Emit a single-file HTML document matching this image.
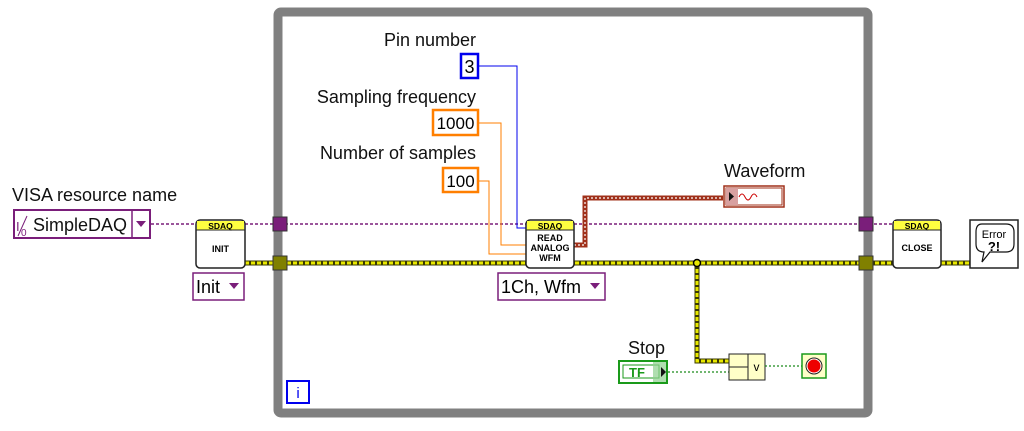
<!DOCTYPE html>
<html><head><style>
body{margin:0;background:#fff;}
svg text{font-family:"Liberation Sans","DejaVu Sans",sans-serif;}
</style></head><body>
<svg width="1024" height="426" viewBox="0 0 1024 426" xmlns="http://www.w3.org/2000/svg">
<rect width="1024" height="426" fill="#fff"/>
<rect x="278" y="12" width="590" height="401" fill="none" stroke="#808080" stroke-width="9" rx="3"/>
<g stroke="#7a1e7a" stroke-width="1.5" fill="none" stroke-dasharray="3,2">
<line x1="151" y1="224" x2="197" y2="224"/>
<line x1="245" y1="224" x2="526" y2="224"/>
<line x1="574" y1="224" x2="893" y2="224"/>
</g>
<g>
<line x1="245" y1="263" x2="972" y2="263" stroke="#3a3a00" stroke-width="5"/>
<line x1="245" y1="263" x2="972" y2="263" stroke="#e8e800" stroke-width="3" stroke-dasharray="4,2"/>
<polyline points="697,263 697,361 729,361" fill="none" stroke="#3a3a00" stroke-width="5"/>
<polyline points="697,263 697,361 729,361" fill="none" stroke="#e8e800" stroke-width="3" stroke-dasharray="4,2"/>
<circle cx="697" cy="263" r="3.5" fill="#e8e800" stroke="#000" stroke-width="1.5"/>
</g>
<rect x="273" y="217" width="14" height="14" fill="#7a1e7a" stroke="#333" stroke-width="1"/>
<rect x="273" y="256" width="14" height="14" fill="#808000" stroke="#333" stroke-width="1"/>
<rect x="859" y="217" width="14" height="14" fill="#7a1e7a" stroke="#333" stroke-width="1"/>
<rect x="859" y="256" width="14" height="14" fill="#808000" stroke="#333" stroke-width="1"/>
<text x="12" y="201" font-size="18" fill="#111">VISA resource name</text>
<rect x="14" y="210" width="136" height="28" fill="#fff" stroke="#7a1e7a" stroke-width="2"/>
<line x1="132" y1="210" x2="132" y2="238" stroke="#7a1e7a" stroke-width="1.5"/>
<text x="16" y="231" font-size="13" fill="#7a1e7a">I</text>
<line x1="18" y1="236" x2="27" y2="216" stroke="#7a1e7a" stroke-width="1"/>
<text x="21" y="236" font-size="10" fill="#7a1e7a">0</text>
<text x="33" y="231" font-size="18" fill="#111">SimpleDAQ</text>
<polygon points="136,221 146,221 141,227" fill="#7a1e7a"/>
<rect x="196" y="220" width="49" height="48" rx="4" fill="#fff" stroke="#222" stroke-width="1.5"/>
<rect x="197" y="221" width="47" height="9" fill="#ffff40"/>
<line x1="196" y1="230" x2="245" y2="230" stroke="#222"/>
<text x="220.5" y="229" font-size="8.5" font-weight="bold" text-anchor="middle">SDAQ</text>
<text x="220.5" y="252" font-size="9" font-weight="bold" text-anchor="middle">INIT</text>
<rect x="193" y="273" width="51" height="27" fill="#fff" stroke="#7a1e7a" stroke-width="1.5"/>
<text x="196" y="293" font-size="18">Init</text>
<polygon points="229,283 239,283 234,289" fill="#7a1e7a"/>
<text x="476" y="46" font-size="18" text-anchor="end" fill="#111">Pin number</text>
<rect x="461" y="54" width="17" height="24" fill="#fff" stroke="#0000ee" stroke-width="2.5"/>
<text x="469.5" y="73" font-size="18" text-anchor="middle">3</text>
<text x="476" y="103" font-size="18" text-anchor="end" fill="#111">Sampling frequency</text>
<rect x="433" y="110" width="45" height="25" fill="#fff" stroke="#ff7f00" stroke-width="2.5"/>
<text x="455.5" y="129" font-size="17" text-anchor="middle">1000</text>
<text x="476" y="159" font-size="18" text-anchor="end" fill="#111">Number of samples</text>
<rect x="443" y="168" width="35" height="24" fill="#fff" stroke="#ff7f00" stroke-width="2.5"/>
<text x="460.5" y="187" font-size="17" text-anchor="middle">100</text>
<polyline points="478,66 517,66 517,228 526,228" fill="none" stroke="#0000ee" stroke-width="1"/>
<polyline points="478,123 501,123 501,245 526,245" fill="none" stroke="#ff7f00" stroke-width="1"/>
<polyline points="478,181 489,181 489,254 526,254" fill="none" stroke="#ff7f00" stroke-width="1"/>
<polyline points="574,245 585,245 585,198 723,198" fill="none" stroke="#a0301a" stroke-width="5"/>
<polyline points="574,245 585,245 585,198 723,198" fill="none" stroke="#fff" stroke-width="1.2" stroke-dasharray="2,2"/>
<text x="724" y="177" font-size="18" fill="#111">Waveform</text>
<rect x="724" y="186" width="60" height="21" fill="#fff" stroke="#a0301a" stroke-width="1.5"/>
<rect x="726" y="188" width="56" height="17" fill="none" stroke="#a0301a" stroke-width="1"/>
<rect x="726" y="188" width="12" height="17" fill="#d8a0a0"/>
<polygon points="729,192 734,196.5 729,201" fill="#111"/>
<path d="M739,197 q3,-6 6,0 q3,6 6,0 q3,-6 6,0" fill="none" stroke="#c00" stroke-width="1"/>
<rect x="526" y="220" width="48" height="48" rx="4" fill="#fff" stroke="#222" stroke-width="1.5"/>
<rect x="527" y="221" width="46" height="9" fill="#ffff40"/>
<line x1="526" y1="230" x2="574" y2="230" stroke="#222"/>
<text x="550" y="229" font-size="8.5" font-weight="bold" text-anchor="middle">SDAQ</text>
<text x="550" y="241" font-size="9" font-weight="bold" text-anchor="middle">READ</text>
<text x="550" y="251" font-size="9" font-weight="bold" text-anchor="middle">ANALOG</text>
<text x="550" y="261" font-size="9" font-weight="bold" text-anchor="middle">WFM</text>
<rect x="498" y="273" width="107" height="27" fill="#fff" stroke="#7a1e7a" stroke-width="1.5"/>
<text x="501" y="293" font-size="18">1Ch, Wfm</text>
<polygon points="590,283 600,283 595,289" fill="#7a1e7a"/>
<text x="628" y="354" font-size="18" fill="#111">Stop</text>
<rect x="619" y="361" width="48" height="22" fill="#fff" stroke="#1a9a1a" stroke-width="2"/>
<rect x="623" y="365" width="36" height="13" fill="none" stroke="#1a9a1a" stroke-width="1"/>
<rect x="653" y="362" width="13" height="20" fill="#8fd08f" opacity="0.7"/>
<text x="637" y="377" font-size="13" font-weight="bold" fill="#1a9a1a" text-anchor="middle">TF</text>
<polygon points="661,367 666,372 661,377" fill="#111"/>
<line x1="668" y1="372" x2="729" y2="372" stroke="#1a8a1a" stroke-width="1.2" stroke-dasharray="2,2"/>
<rect x="729" y="354" width="36" height="26" fill="#ffffc8" stroke="#222" stroke-width="1"/>
<line x1="748" y1="354" x2="748" y2="380" stroke="#222"/>
<line x1="729" y1="367" x2="748" y2="367" stroke="#222"/>
<text x="756.5" y="371" font-size="12" text-anchor="middle">v</text>
<line x1="765" y1="366" x2="802" y2="366" stroke="#1a8a1a" stroke-width="1.2" stroke-dasharray="2,2"/>
<rect x="802" y="354" width="24" height="24" fill="#ffffc8" stroke="#1a9a1a" stroke-width="1.5"/>
<circle cx="814" cy="366" r="8" fill="#fff" stroke="#222" stroke-width="1"/>
<circle cx="814" cy="366" r="6.5" fill="#ee0000"/>
<rect x="287" y="381" width="22" height="22" fill="#fff" stroke="#0000ee" stroke-width="2"/>
<text x="298" y="398" font-size="15" text-anchor="middle" fill="#0000ee">i</text>
<rect x="893" y="220" width="48" height="48" rx="4" fill="#fff" stroke="#222" stroke-width="1.5"/>
<rect x="894" y="221" width="46" height="9" fill="#ffff40"/>
<line x1="893" y1="230" x2="941" y2="230" stroke="#222"/>
<text x="917" y="229" font-size="8.5" font-weight="bold" text-anchor="middle">SDAQ</text>
<text x="917" y="251" font-size="9" font-weight="bold" text-anchor="middle">CLOSE</text>
<rect x="970" y="220" width="48" height="48" fill="#fff" stroke="#222" stroke-width="1.5"/>
<path d="M982,224 h24 q8,0 8,8 v12 q0,8 -8,8 h-16 l-8,10 l2,-10 q-8,0 -8,-8 v-12 q0,-8 6,-8z" fill="#fff" stroke="#111" stroke-width="1.2"/>
<text x="994" y="238" font-size="11" text-anchor="middle">Error</text>
<text x="994" y="251" font-size="13" font-weight="bold" text-anchor="middle">?!</text>
</svg>
</body></html>
